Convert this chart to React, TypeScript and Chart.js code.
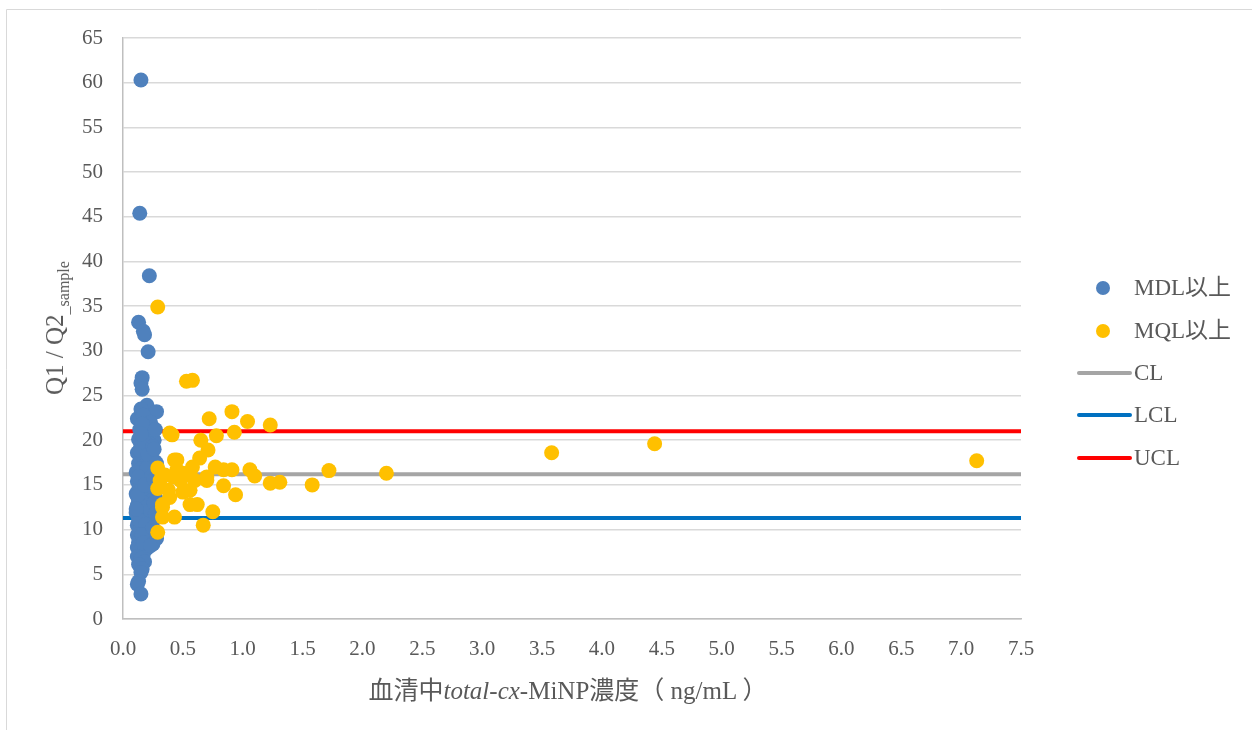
import React, { useEffect, useRef } from "react";
import { Chart, registerables } from "chart.js";

Chart.register(...registerables);

// ---- data ----
const mdlX = [
  0.15, 0.14, 0.22, 0.13, 0.17, 0.18, 0.21, 0.16, 0.15, 0.16, 0.20, 0.28, 0.12, 0.15, 0.17, 0.23, 0.19, 0.14, 0.25, 0.21,
  0.13, 0.17, 0.26, 0.22, 0.15, 0.19, 0.12, 0.24, 0.16, 0.20, 0.27, 0.13, 0.18, 0.22, 0.15, 0.25, 0.11, 0.19, 0.14, 0.23,
  0.17, 0.12, 0.21, 0.26, 0.15, 0.19, 0.13, 0.24, 0.17, 0.11, 0.21, 0.15, 0.27, 0.19, 0.13, 0.23, 0.16, 0.12, 0.20, 0.25,
  0.14, 0.18, 0.11, 0.22, 0.16, 0.27, 0.13, 0.20, 0.15, 0.24, 0.12, 0.18, 0.22, 0.14, 0.26, 0.17, 0.12, 0.21, 0.15, 0.28,
  0.19, 0.13, 0.25, 0.16, 0.12, 0.20, 0.14, 0.17, 0.12, 0.15, 0.18, 0.13, 0.16, 0.15, 0.13, 0.12, 0.15,
  0.14, 0.18, 0.16, 0.20, 0.13, 0.24, 0.17, 0.22, 0.14, 0.19, 0.16, 0.23, 0.12, 0.18, 0.21, 0.15, 0.25, 0.11, 0.26, 0.17,
  0.27, 0.26, 0.28, 0.27, 0.25, 0.26, 0.23,
];
const mdlY = [
  60.3, 45.4, 38.4, 33.2, 32.2, 31.8, 29.9, 27.0, 26.4, 25.7, 23.9, 23.2, 22.4, 23.5, 22.8, 22.0, 21.5, 21.2, 21.0, 20.6,
  20.1, 20.3, 20.0, 19.6, 19.4, 19.0, 18.6, 18.7, 18.2, 18.0, 17.6, 17.4, 17.2, 17.0, 16.8, 16.6, 16.4, 16.2, 16.0, 15.8,
  15.6, 15.4, 15.3, 15.1, 14.9, 14.7, 14.5, 14.4, 14.2, 14.0, 13.9, 13.7, 13.6, 13.4, 13.2, 13.1, 12.9, 12.7, 12.6, 12.4,
  12.2, 12.0, 11.9, 11.7, 11.5, 11.4, 11.2, 11.0, 10.8, 10.7, 10.5, 10.3, 10.1, 9.9, 9.8, 9.6, 9.4, 9.3, 9.1, 9.0,
  8.8, 8.6, 8.4, 8.2, 8.0, 7.9, 7.6, 7.3, 7.0, 6.7, 6.4, 6.1, 5.6, 5.2, 4.2, 3.9, 2.8,
  18.9, 19.8, 21.8, 16.9, 15.9, 16.0, 13.0, 14.9, 11.0, 10.6, 9.4, 12.2, 13.8, 15.0, 18.4, 20.7, 19.3, 12.3, 13.0, 8.5,
  21.2, 19.0, 17.4, 11.8, 10.2, 15.6, 8.2,
];

const mqlX = [
  0.29, 0.53, 0.58, 0.72, 0.91, 1.04, 1.23, 0.39, 0.93, 0.78, 0.65, 0.71, 0.45, 0.29, 0.58, 0.77, 0.91, 1.06, 1.10, 1.23,
  1.31, 1.58, 1.72, 0.84, 0.94, 0.70, 0.56, 0.29, 0.39, 0.56, 0.62, 0.33, 0.43, 0.33, 0.75, 0.67, 0.29, 0.42, 0.50, 0.64,
  0.56, 0.84, 0.45, 0.35, 0.33, 0.43, 0.60, 0.50, 0.38, 0.31, 0.70, 0.48, 0.41, 2.20, 3.58, 4.44, 7.13,
];
const mqlY = [
  34.9, 26.6, 26.7, 22.4, 23.2, 22.1, 21.7, 20.8, 20.9, 20.5, 20.0, 18.9, 17.8, 16.9, 17.0, 17.0, 16.7, 16.7, 16.0, 15.2,
  15.3, 15.0, 16.6, 14.9, 13.9, 15.5, 14.4, 14.6, 13.6, 12.8, 12.8, 12.8, 11.4, 11.4, 12.0, 10.5, 9.7, 15.9, 16.3, 18.0,
  16.1, 16.7, 16.7, 16.1, 12.5, 17.8, 15.5, 14.2, 14.4, 15.5, 15.9, 15.5, 20.6, 16.3, 18.6, 19.6, 17.7,
];

const CL = 16.2;
const LCL = 11.3;
const UCL = 21.0;
const xRange = [0, 7.5];

const xTicks = [0, 0.5, 1, 1.5, 2, 2.5, 3, 3.5, 4, 4.5, 5, 5.5, 6, 6.5, 7, 7.5];
const xTickLabels = ["0.0", "0.5", "1.0", "1.5", "2.0", "2.5", "3.0", "3.5", "4.0", "4.5", "5.0", "5.5", "6.0", "6.5", "7.0", "7.5"];
const yTicks = [0, 5, 10, 15, 20, 25, 30, 35, 40, 45, 50, 55, 60, 65];

const FONT = '"Liberation Serif", "Noto Sans CJK JP", serif';
const TEXT = "#595959";

export default function App() {
  const ref = useRef<HTMLCanvasElement | null>(null);

  useEffect(() => {
    if (!ref.current) return;
    const framePlugin = {
      id: "frame",
      beforeDraw(chart: any) {
        const ctx = chart.ctx;
        ctx.save();
        ctx.strokeStyle = "#d9d9d9";
        ctx.lineWidth = 1;
        ctx.beginPath();
        ctx.moveTo(6.5, 730);
        ctx.lineTo(6.5, 9.5);
        ctx.lineTo(1252, 9.5);
        ctx.stroke();
        ctx.restore();
      },
    };
    const line = (y: number) => xRange.map((x) => ({ x, y }));
    const chart = new Chart(ref.current, {
      type: "scatter",
      data: {
        datasets: [
          {
            label: "MQL以上",
            data: mqlX.map((x, i) => ({ x, y: mqlY[i] })),
            backgroundColor: "#ffc000",
            borderColor: "#ffc000",
            pointRadius: 7.5,
            borderWidth: 0,
            order: 0,
          },
          {
            label: "MDL以上",
            data: mdlX.map((x, i) => ({ x, y: mdlY[i] })),
            backgroundColor: "#4f81bd",
            borderColor: "#4f81bd",
            pointRadius: 7.5,
            borderWidth: 0,
            order: 1,
          },
          {
            label: "CL",
            type: "line",
            data: line(CL),
            borderColor: "#a5a5a5",
            borderWidth: 4,
            pointRadius: 0,
            showLine: true,
            order: 4,
          },
          {
            label: "LCL",
            type: "line",
            data: line(LCL),
            borderColor: "#0070c0",
            borderWidth: 4,
            pointRadius: 0,
            showLine: true,
            order: 3,
          },
          {
            label: "UCL",
            type: "line",
            data: line(UCL),
            borderColor: "#ff0000",
            borderWidth: 4,
            pointRadius: 0,
            showLine: true,
            order: 2,
          },
        ] as any,
      },
      options: {
        animation: false,
        responsive: false,
        layout: { padding: { left: 0, top: 38, right: 231, bottom: 0 } },
        plugins: { legend: { display: false }, tooltip: { enabled: false } },
        scales: {
          x: {
            type: "linear",
            min: 0,
            max: 7.5,
            afterBuildTicks: (s: any) => {
              s.ticks = xTicks.map((v) => ({ value: v }));
            },
            afterFit: (s: any) => {
              s.height = 111;
            },
            ticks: {
              callback: (v: any) => xTickLabels[xTicks.indexOf(Number(v))] ?? "",
              color: TEXT,
              font: { family: FONT, size: 21 },
              padding: 18,
              maxRotation: 0,
              autoSkip: false,
            },
            grid: { display: false, drawTicks: false },
            border: { display: true, color: "#bfbfbf", width: 1.5 },
          },
          y: {
            type: "linear",
            min: 0,
            max: 65,
            afterBuildTicks: (s: any) => {
              s.ticks = yTicks.map((v) => ({ value: v }));
            },
            afterFit: (s: any) => {
              s.width = 123;
            },
            ticks: {
              color: TEXT,
              font: { family: FONT, size: 21 },
              padding: 20,
              autoSkip: false,
            },
            grid: { color: "#d9d9d9", lineWidth: 1.5, drawTicks: false },
            border: { display: true, color: "#bfbfbf", width: 1.5 },
          },
        },
      },
      plugins: [framePlugin],
    } as any);
    return () => chart.destroy();
  }, []);

  const legendItems = [
    { label: "MDL以上", kind: "dot", color: "#4f81bd", y: 288 },
    { label: "MQL以上", kind: "dot", color: "#ffc000", y: 331 },
    { label: "CL", kind: "line", color: "#a5a5a5", y: 373 },
    { label: "LCL", kind: "line", color: "#0070c0", y: 415 },
    { label: "UCL", kind: "line", color: "#ff0000", y: 458 },
  ];

  return (
    <div style={{ position: "fixed", left: 0, top: 0, width: 1252, height: 730, background: "#fff", overflow: "hidden" }}>
      <canvas ref={ref} width={1252} height={730} style={{ position: "absolute", left: 0, top: 0 }} />
      {legendItems.map((it) => (
        <div key={it.label} style={{ position: "absolute", left: 0, top: it.y - 15, height: 30, width: 1252 }}>
          {it.kind === "dot" ? (
            <div
              style={{
                position: "absolute",
                left: 1096,
                top: 8,
                width: 14,
                height: 14,
                borderRadius: 7,
                background: it.color,
              }}
            />
          ) : (
            <div
              style={{
                position: "absolute",
                left: 1077,
                top: 13,
                width: 55,
                height: 4,
                borderRadius: 2,
                background: it.color,
              }}
            />
          )}
          <div
            style={{
              position: "absolute",
              left: 1134,
              top: 0,
              lineHeight: "30px",
              fontFamily: FONT,
              fontSize: 23,
              color: TEXT,
              whiteSpace: "nowrap",
            }}
          >
            {it.label}
          </div>
        </div>
      ))}
      <div
        style={{
          position: "absolute",
          left: 57,
          top: 328,
          transform: "translate(-50%, -50%) rotate(-90deg)",
          fontFamily: FONT,
          fontSize: 25,
          color: TEXT,
          whiteSpace: "nowrap",
        }}
      >
        Q1 / Q2<sub style={{ fontSize: 16 }}>_sample</sub>
      </div>
      <div
        style={{
          position: "absolute",
          left: 568,
          top: 688,
          transform: "translate(-50%, -50%)",
          fontFamily: FONT,
          fontSize: 25,
          color: TEXT,
          whiteSpace: "nowrap",
        }}
      >
        血清中<i>total-cx</i>-MiNP濃度（ ng/mL ）
      </div>
    </div>
  );
}
